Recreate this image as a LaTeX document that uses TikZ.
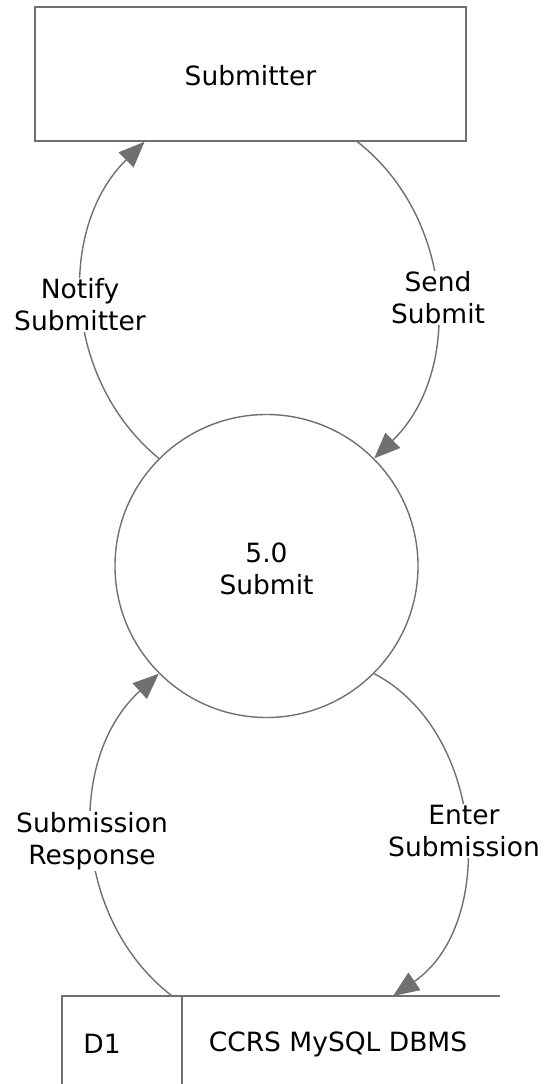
\documentclass[tikz,border=0pt]{standalone}
\usepackage{fontspec}
\setmainfont{DejaVu Sans}
\usetikzlibrary{arrows.meta,calc}
\definecolor{edge}{HTML}{707070}
\tikzset{
  base/.style={draw=edge, line width=1.4pt},
  entity/.style={base, rectangle, minimum width=431pt, minimum height=134pt, inner sep=0pt, text height=23pt},
  process/.style={base, circle, minimum size=303pt, inner sep=0pt, align=center, text height=57pt},
  flow/.style={draw=edge, line width=1.4pt, -{Triangle[length=26pt,width=21pt]}},
  flowlabel/.style={fill=white, inner sep=1pt, align=center},
  txt/.style={inner sep=0pt},
}
\begin{document}
\begin{tikzpicture}[x=1pt,y=-1pt, font=\fontsize{26.5}{32}\selectfont]
\useasboundingbox (0,0) rectangle (545,1084);

% external entity and process
\node[entity] (sub) at (250.5,74) {Submitter};
\node[process] (proc) at (266.5,566) {5.0\\Submit};

% data store D1 (open on the right and at the bottom)
\coordinate (dsTL) at (62,996);
\coordinate (dsTR) at (500,996);
\coordinate (dsBL) at (62,1084);
\coordinate (dsDivT) at (182,996);
\coordinate (dsDivB) at (182,1084);
\draw[base] (dsBL) -- (dsTL) -- (dsTR);
\draw[base] (dsDivT) -- (dsDivB);
\node[txt] (dsid) at (102,1044) {D1};
\node[txt] (dsname) at (338,1044) {CCRS MySQL DBMS};

% attachment points
\coordinate (subL) at ($(sub.south west)!0.255!(sub.south east)$);
\coordinate (subR) at ($(sub.south west)!0.747!(sub.south east)$);
\coordinate (dsL) at (172,996);
\coordinate (dsR) at (393,996);

% data flows
\draw[flow] (proc.135) to[bend left=48] (subL);
\draw[flow] (subR) to[bend left=49] (proc.45);
\draw[flow] (dsL) to[bend left=50] (proc.225);
\draw[flow] (proc.315) to[bend left=59] (dsR);

% flow labels
\node[flowlabel] (l1) at (80,305) {Notify\\Submitter};
\node[flowlabel] (l2) at (438,298) {Send\\Submit};
\node[flowlabel] (l3) at (92,841) {Submission\\Response};
\node[flowlabel] (l4) at (464,831) {Enter\\Submission};
\end{tikzpicture}
\end{document}
